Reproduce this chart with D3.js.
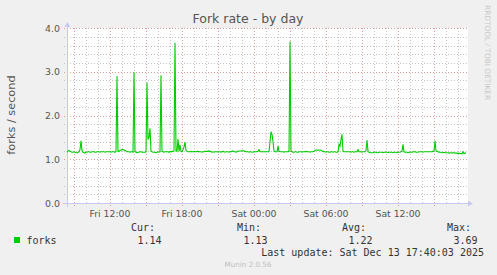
<!DOCTYPE html>
<html>
<head>
<meta charset="utf-8">
<script src="https://cdn.jsdelivr.net/npm/d3@7"></script>
<style>
  html, body { margin: 0; padding: 0; background: #f0f0f0; }
  svg { display: block; }
  text { font-family: "DejaVu Sans", sans-serif; }
  .mono { font-family: "DejaVu Sans Mono", monospace; }
</style>
</head>
<body>
<div id="chart"></div>
<script>
// fork rate, one sample every 5 minutes, starting Fri Dec 12 2025 08:25
var forks = [
  1.16,1.19,1.20,1.18,1.17,1.16,1.16,1.17,1.16,1.15,1.15,1.16,1.17,1.22,1.42,1.20,1.16,1.15,1.14,1.16,
  1.16,1.17,1.17,1.16,1.16,1.17,1.17,1.17,1.16,1.16,1.17,1.17,1.17,1.16,1.17,1.17,1.17,1.17,1.16,1.17,
  1.17,1.17,1.17,1.17,1.16,1.17,1.17,1.17,1.16,1.18,2.90,1.18,1.18,1.20,1.21,1.22,1.22,1.21,1.20,1.19,
  1.17,1.17,1.17,1.16,1.17,1.17,1.16,2.99,1.18,1.16,1.15,1.16,1.16,1.17,1.17,1.16,1.16,1.16,1.16,1.17,
  2.75,1.45,1.50,1.71,1.18,1.17,1.16,1.16,1.16,1.15,1.16,1.17,1.16,1.17,2.92,1.18,1.17,1.16,1.17,1.17,
  1.17,1.17,1.16,1.18,1.17,1.18,1.18,1.19,3.66,1.20,1.18,1.46,1.18,1.33,1.18,1.17,1.22,1.28,1.39,1.20,
  1.18,1.17,1.17,1.17,1.18,1.17,1.17,1.18,1.17,1.17,1.18,1.18,1.17,1.17,1.17,1.16,1.17,1.17,1.18,1.18,
  1.18,1.18,1.19,1.18,1.17,1.16,1.17,1.16,1.17,1.17,1.17,1.16,1.17,1.17,1.16,1.17,1.18,1.17,1.16,1.17,
  1.17,1.17,1.16,1.17,1.17,1.18,1.19,1.17,1.17,1.16,1.17,1.18,1.19,1.19,1.19,1.19,1.20,1.19,1.18,1.17,
  1.17,1.17,1.16,1.17,1.17,1.16,1.16,1.17,1.17,1.17,1.17,1.18,1.22,1.17,1.17,1.17,1.17,1.17,1.17,1.17,
  1.17,1.17,1.17,1.40,1.63,1.57,1.40,1.18,1.17,1.17,1.17,1.30,1.18,1.17,1.17,1.17,1.17,1.16,1.17,1.17,
  1.17,1.17,1.18,3.69,1.19,1.17,1.16,1.16,1.17,1.17,1.16,1.16,1.17,1.17,1.17,1.16,1.17,1.17,1.17,1.18,
  1.17,1.17,1.17,1.16,1.17,1.17,1.17,1.18,1.20,1.21,1.21,1.20,1.21,1.21,1.20,1.19,1.18,1.17,1.17,1.16,
  1.17,1.17,1.16,1.16,1.17,1.17,1.16,1.17,1.17,1.16,1.16,1.17,1.34,1.30,1.45,1.57,1.18,1.17,1.17,1.17,
  1.17,1.17,1.17,1.17,1.16,1.17,1.17,1.16,1.17,1.17,1.17,1.22,1.17,1.17,1.17,1.16,1.17,1.17,1.17,1.20,
  1.44,1.18,1.16,1.15,1.15,1.15,1.15,1.16,1.16,1.16,1.15,1.15,1.16,1.16,1.16,1.16,1.15,1.16,1.16,1.16,
  1.16,1.15,1.16,1.16,1.16,1.16,1.15,1.16,1.16,1.16,1.15,1.16,1.16,1.16,1.17,1.18,1.34,1.17,1.16,1.16,
  1.16,1.15,1.16,1.16,1.16,1.16,1.17,1.17,1.17,1.16,1.16,1.16,1.17,1.17,1.17,1.17,1.16,1.17,1.17,1.17,
  1.17,1.17,1.17,1.17,1.17,1.17,1.18,1.19,1.42,1.19,1.18,1.17,1.16,1.16,1.16,1.15,1.15,1.16,1.15,1.15,
  1.15,1.15,1.14,1.15,1.15,1.14,1.15,1.15,1.14,1.14,1.14,1.13,1.14,1.13,1.13,1.12,1.17,1.13,1.14,1.14
];
var yTicks = [0, 1, 2, 3, 4];
var legendHeads = ["Cur:", "Min:", "Avg:", "Max:"];
var legendVals = ["1.14", "1.13", "1.22", "3.69"];
var title = "Fork rate - by day";
var yLabel = "forks / second";
var lastUpdate = "Last update: Sat Dec 13 17:40:03 2025";

var W = 497, H = 275;
var pLeft = 67, pRight = 467, pTop = 28, pBottom = 203;
var start = new Date(2025, 11, 12, 8, 25);
var step = 5 * 60 * 1000;
var end = new Date(start.getTime() + forks.length * step);

var x = d3.scaleTime().domain([start, end]).range([pLeft, pRight]);
var y = d3.scaleLinear().domain([0, 4]).range([pBottom, pTop]);

var svg = d3.select("#chart").append("svg")
    .attr("width", W)
    .attr("height", H);

svg.append("rect").attr("width", W).attr("height", H).attr("fill", "#f0f0f0");
svg.append("rect")
    .attr("x", pLeft).attr("y", pTop)
    .attr("width", pRight - pLeft + 1).attr("height", pBottom - pTop)
    .attr("fill", "#ffffff");

var grid = svg.append("g").attr("shape-rendering", "crispEdges");

// minor grid
grid.selectAll(".vmin")
    .data(x.ticks(d3.timeHour.every(1)))
  .enter().append("line")
    .attr("x1", function(d) { return Math.round(x(d)) + 0.5; })
    .attr("x2", function(d) { return Math.round(x(d)) + 0.5; })
    .attr("y1", pTop).attr("y2", pBottom + 2)
    .attr("stroke", "#c4c4c4")
    .attr("stroke-dasharray", "1,2");

grid.selectAll(".hmin")
    .data(d3.range(0, 21).map(function(i) { return i * 0.2; }))
  .enter().append("line")
    .attr("x1", pLeft - 3).attr("x2", pRight + 1)
    .attr("y1", function(d) { return Math.round(y(d)) + 0.5; })
    .attr("y2", function(d) { return Math.round(y(d)) + 0.5; })
    .attr("stroke", "#c4c4c4")
    .attr("stroke-dasharray", "1,2");

// major grid
grid.selectAll(".vmaj")
    .data(x.ticks(d3.timeHour.every(3)))
  .enter().append("line")
    .attr("x1", function(d) { return Math.round(x(d)) + 0.5; })
    .attr("x2", function(d) { return Math.round(x(d)) + 0.5; })
    .attr("y1", pTop).attr("y2", pBottom + 3)
    .attr("stroke", "#e29a9a")
    .attr("stroke-dasharray", "1,2");

grid.selectAll(".hmaj")
    .data(yTicks)
  .enter().append("line")
    .attr("x1", pLeft - 3).attr("x2", pRight + 1)
    .attr("y1", function(d) { return Math.round(y(d)) + 0.5; })
    .attr("y2", function(d) { return Math.round(y(d)) + 0.5; })
    .attr("stroke", "#e29a9a")
    .attr("stroke-dasharray", "1,2");

// axes
var axisCol = "#c8c8f4";
svg.append("line")
    .attr("x1", pLeft - 4).attr("x2", pRight + 2)
    .attr("y1", pBottom + 0.5).attr("y2", pBottom + 0.5)
    .attr("stroke", axisCol).attr("shape-rendering", "crispEdges");
svg.append("line")
    .attr("x1", pLeft + 0.5).attr("x2", pLeft + 0.5)
    .attr("y1", pTop - 2).attr("y2", pBottom + 4)
    .attr("stroke", axisCol).attr("shape-rendering", "crispEdges");
svg.append("path")
    .attr("d", "M" + (pRight + 1) + "," + (pBottom - 2.5) + "L" + (pRight + 6) + "," + (pBottom + 0.5) + "L" + (pRight + 1) + "," + (pBottom + 3.5) + "Z")
    .attr("fill", axisCol);
svg.append("path")
    .attr("d", "M" + (pLeft - 2.5) + "," + (pTop - 1) + "L" + (pLeft + 0.5) + "," + (pTop - 6) + "L" + (pLeft + 3.5) + "," + (pTop - 1) + "Z")
    .attr("fill", axisCol);

// tick labels
svg.selectAll(".ylab")
    .data(yTicks)
  .enter().append("text")
    .attr("x", 60)
    .attr("y", function(d) { return y(d) + 3.5; })
    .attr("text-anchor", "end")
    .attr("font-size", "9.4px")
    .attr("fill", "#555")
    .text(function(d) { return d.toFixed(1); });

var fmt = d3.timeFormat("%a %H:%M");
svg.selectAll(".xlab")
    .data(x.ticks(d3.timeHour.every(6)))
  .enter().append("text")
    .attr("x", function(d) { return x(d); })
    .attr("y", 217)
    .attr("text-anchor", "middle")
    .attr("font-size", "9.3px")
    .attr("fill", "#555")
    .text(function(d) { return fmt(d); });

// data line
var line = d3.line()
    .x(function(d, i) { return x(new Date(start.getTime() + i * step)); })
    .y(function(d) { return y(d); });

svg.append("path")
    .datum(forks)
    .attr("d", line)
    .attr("fill", "none")
    .attr("stroke", "#00cc00")
    .attr("stroke-width", 1.1);

// title and labels
svg.append("text")
    .attr("x", 248).attr("y", 23)
    .attr("text-anchor", "middle")
    .attr("font-size", "12.5px")
    .attr("fill", "#555")
    .text(title);

svg.append("text")
    .attr("transform", "translate(15,115) rotate(-90)")
    .attr("text-anchor", "middle")
    .attr("font-size", "11.3px")
    .attr("fill", "#555")
    .text(yLabel);

svg.append("text")
    .attr("transform", "translate(485,5) rotate(90)")
    .attr("font-size", "7.4px")
    .attr("fill", "#c8c8c8")
    .text("RRDTOOL / TOBI OETIKER");

// legend
svg.append("rect")
    .attr("x", 14).attr("y", 237)
    .attr("width", 6).attr("height", 6)
    .attr("fill", "#00cc00");

svg.append("text").attr("class", "mono")
    .attr("x", 26.5).attr("y", 243.5)
    .attr("font-size", "10px").attr("fill", "#333")
    .text("forks");

var colX = [131, 237, 342, 447];
svg.selectAll(".lhead")
    .data(legendHeads)
  .enter().append("text")
    .attr("class", "mono")
    .attr("x", function(d, i) { return colX[i]; })
    .attr("y", 231)
    .attr("font-size", "10px").attr("fill", "#333")
    .text(function(d) { return d; });

svg.selectAll(".lval")
    .data(legendVals)
  .enter().append("text")
    .attr("class", "mono")
    .attr("x", function(d, i) { return colX[i] + 6.5; })
    .attr("y", 243.5)
    .attr("font-size", "10px").attr("fill", "#333")
    .text(function(d) { return d; });

svg.append("text").attr("class", "mono")
    .attr("x", 484).attr("y", 255.5)
    .attr("text-anchor", "end")
    .attr("font-size", "10px").attr("fill", "#333")
    .text(lastUpdate);

svg.append("text")
    .attr("x", 248).attr("y", 267)
    .attr("text-anchor", "middle")
    .attr("font-size", "7.2px")
    .attr("fill", "#c0c0c0")
    .text("Munin 2.0.56");
</script>
</body>
</html>
